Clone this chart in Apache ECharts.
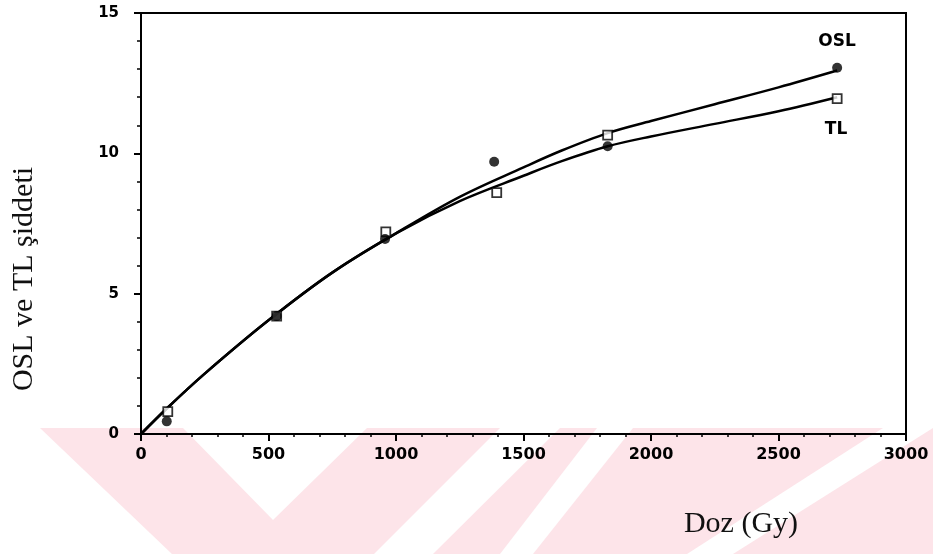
<!DOCTYPE html>
<html>
<head>
<meta charset="utf-8">
<script src="https://cdn.jsdelivr.net/npm/echarts@6/dist/echarts.min.js"></script>
<style>
html,body{margin:0;padding:0;background:#fff;}
#chart{width:933px;height:554px;}
</style>
</head>
<body>
<div id="chart"></div>
<script>
// ---- data ----
var xTickValues = [0, 500, 1000, 1500, 2000, 2500, 3000];
var yTickValues = [0, 5, 10, 15];

var curveDose = [0, 100, 250, 500, 750, 1000, 1250, 1500, 1650, 1830, 2000, 2250, 2500, 2730];
var oslCurve  = [0, 0.9, 2.15, 4.05, 5.75, 7.15, 8.45, 9.5, 10.1, 10.72, 11.15, 11.75, 12.35, 12.95];
var tlCurve   = [0, 0.9, 2.15, 4.05, 5.75, 7.15, 8.3, 9.2, 9.72, 10.25, 10.6, 11.05, 11.5, 12.0];

var oslDose = [101, 532, 957, 1385, 1830, 2730];
var oslVal  = [0.45, 4.2, 6.95, 9.7, 10.25, 13.05];
var tlDose  = [105, 532, 960, 1395, 1830, 2730];
var tlVal   = [0.8, 4.2, 7.2, 8.6, 10.65, 11.95];

function pairs(xs, ys){ return xs.map(function(x,i){ return [x, ys[i]]; }); }

var chart = echarts.init(document.getElementById('chart'), null, {renderer:'canvas'});
var pink = '#fde4e9';
var option = {
  backgroundColor: '#fff',
  animation: false,
  graphic: [
    {type:'polygon', z:-10, silent:true, shape:{points:[[40,428],[183,428],[273,520],[367,428],[500,428],[374,554],[172,554]]}, style:{fill:pink}},
    {type:'polygon', z:-10, silent:true, shape:{points:[[433,554],[500,554],[597,428],[560,428]]}, style:{fill:pink}},
    {type:'polygon', z:-10, silent:true, shape:{points:[[533,554],[687,554],[883,428],[633,428]]}, style:{fill:pink}},
    {type:'polygon', z:-10, silent:true, shape:{points:[[733,554],[933,554],[933,428]]}, style:{fill:pink}},
    {type:'text', x:24, y:279, rotation:Math.PI/2, style:{text:'OSL ve TL şiddeti', font:'30px "Liberation Serif"', fill:'#111', align:'center', verticalAlign:'middle'}},
    {type:'text', x:741, y:524, style:{text:'Doz (Gy)', font:'30px "Liberation Serif"', fill:'#111', align:'center', verticalAlign:'middle'}},
    {type:'text', x:837, y:42, style:{text:'OSL', font:'bold 17px "DejaVu Sans"', fill:'#000', align:'center', verticalAlign:'middle'}},
    {type:'text', x:836, y:130, style:{text:'TL', font:'bold 17px "DejaVu Sans"', fill:'#000', align:'center', verticalAlign:'middle'}}
  ],
  grid: {left:141, right:27, top:13, bottom:120, show:true, borderColor:'#000', borderWidth:2, backgroundColor:'transparent'},
  xAxis: {
    type:'value', min:0, max:3000, interval:500,
    axisLine:{show:true, lineStyle:{color:'#000', width:2}},
    axisTick:{show:true, length:7, lineStyle:{color:'#000', width:2}},
    minorTick:{show:true, splitNumber:5, length:3, lineStyle:{color:'#000', width:1.5}},
    splitLine:{show:false},
    axisLabel:{color:'#000', fontFamily:'DejaVu Sans', fontWeight:'bold', fontSize:16, margin:13,
      formatter:function(v){ return xTickValues.indexOf(v) >= 0 ? String(v) : ''; }}
  },
  yAxis: {
    type:'value', min:0, max:15, interval:5,
    axisLine:{show:true, lineStyle:{color:'#000', width:2}},
    axisTick:{show:true, length:7, lineStyle:{color:'#000', width:2}},
    minorTick:{show:true, splitNumber:5, length:4, lineStyle:{color:'#000', width:1.5}},
    splitLine:{show:false},
    axisLabel:{color:'#000', fontFamily:'DejaVu Sans', fontWeight:'bold', fontSize:15, margin:22,
      formatter:function(v){ return yTickValues.indexOf(v) >= 0 ? String(v) : ''; }}
  },
  series: [
    {name:'OSL fit', type:'line', data:pairs(curveDose, oslCurve), smooth:0.35, showSymbol:false, symbol:'none',
      lineStyle:{color:'#000', width:2.5}, z:3},
    {name:'TL fit', type:'line', data:pairs(curveDose, tlCurve), smooth:0.35, showSymbol:false, symbol:'none',
      lineStyle:{color:'#000', width:2.5}, z:3},
    {name:'TL', type:'scatter', data:pairs(tlDose, tlVal), symbol:'rect', symbolSize:9,
      itemStyle:{color:'#fff', borderColor:'#000', borderWidth:1.8}, z:4},
    {name:'OSL', type:'scatter', data:pairs(oslDose, oslVal), symbol:'circle', symbolSize:10,
      itemStyle:{color:'#000'}, z:5}
  ]
};
chart.setOption(option);
</script>
</body>
</html>
